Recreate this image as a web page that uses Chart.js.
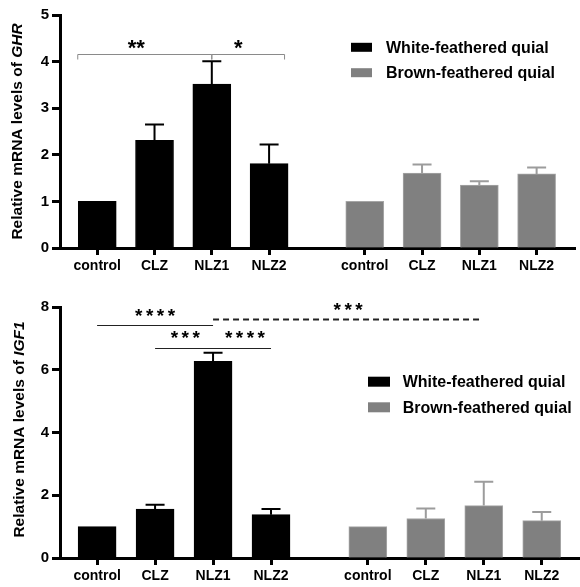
<!DOCTYPE html>
<html><head><meta charset="utf-8">
<script src="https://cdn.jsdelivr.net/npm/chart.js@4"></script>
<style>
html,body{margin:0;padding:0;background:#fff;}
#wrap{position:relative;width:580px;height:587px;overflow:hidden;}
.box{position:absolute;left:0;width:580px;}
</style></head><body>
<div id="wrap">
<div class="box" style="top:0;height:290px"><canvas id="c1" width="580" height="290"></canvas></div>
<div class="box" style="top:290px;height:297px"><canvas id="c2" width="580" height="297"></canvas></div>
</div>
<script>
// ---- data ----
const categories = ['control','CLZ','NLZ1','NLZ2','control','CLZ','NLZ1','NLZ2'];
const seriesNames = ['White-feathered quial','Brown-feathered quial'];
const ghrWhite   = [1.00, 2.31, 3.52, 1.81];
const ghrWhiteSD = [0.00, 0.34, 0.49, 0.41];
const ghrBrown   = [1.00, 1.61, 1.35, 1.59];
const ghrBrownSD = [0.00, 0.18, 0.08, 0.14];
const igfWhite   = [1.00, 1.56, 6.27, 1.38];
const igfWhiteSD = [0.00, 0.14, 0.27, 0.18];
const igfBrown   = [1.00, 1.26, 1.67, 1.19];
const igfBrownSD = [0.00, 0.32, 0.76, 0.28];
const ghrYTicks = [0,1,2,3,4,5];
const igfYTicks = [0,2,4,6,8];
// significance comparisons (category index ranges, value level, label)
const ghrSig = [
  {from:-0.34, to:2, y:4.16, label:'**', lx:0.68, ly:4.36},
  {from:2, to:3.27, y:4.16, label:'*', lx:2.46, ly:4.36}
];
const igfSig = [
  {from:0, to:2, y:7.44, label:'****', lx:1.0, ly:7.83, dash:false},
  {from:2, to:6.6, y:7.61, label:'***', lx:4.33, ly:8.02, dash:true},
  {from:1, to:3, y:6.69, label:'***', lx:1.52, ly:7.12, dash:false, label2:'****', lx2:2.55}
];

// ---- layout ----
const xPos = [0,1,2,3,4.67,5.67,6.67,7.67];
const FONT = "'Liberation Sans', Arial, sans-serif";
const BLACK = '#000000', GRAY = '#808080';

const errorBars = {
  id:'errbars',
  afterDatasetsDraw(chart){
    const ctx = chart.ctx, ys = chart.scales.y;
    chart.data.datasets.forEach((ds,i)=>{
      const meta = chart.getDatasetMeta(i);
      meta.data.forEach((bar,j)=>{
        const sd = ds.errors[j]; if(!sd) return;
        const v = ds.data[j].y;
        const top = ys.getPixelForValue(v+sd), base = ys.getPixelForValue(v);
        ctx.save();
        ctx.strokeStyle = ds.errorColor; ctx.lineWidth = 2;
        ctx.beginPath();
        ctx.moveTo(bar.x, base); ctx.lineTo(bar.x, top);
        ctx.moveTo(bar.x-9.5, top); ctx.lineTo(bar.x+9.5, top);
        ctx.stroke(); ctx.restore();
      });
    });
  }
};

function drawCenteredText(ctx, text, cx, cy, font, spacing){
  ctx.save();
  ctx.font = font; ctx.fillStyle = '#000';
  if (spacing) ctx.letterSpacing = spacing + 'px';
  ctx.textBaseline = 'alphabetic'; ctx.textAlign = 'left';
  const m = ctx.measureText(text);
  const w = m.width - (spacing||0);
  const A = m.actualBoundingBoxAscent, D = m.actualBoundingBoxDescent;
  ctx.fillText(text, cx - w/2, cy + (A - D)/2);
  ctx.restore();
}

const sigPlugin = {
  id:'sig',
  afterDraw(chart, args, opts){
    const ctx = chart.ctx, xs = chart.scales.x, ys = chart.scales.y;
    (opts.items||[]).forEach(s=>{
      const x1 = xs.getPixelForValue(s.from), x2 = xs.getPixelForValue(s.to);
      const y = Math.round(ys.getPixelForValue(s.y)) + 0.5;
      ctx.save();
      ctx.strokeStyle = opts.color; ctx.lineWidth = s.dash ? opts.dashWidth : opts.lineWidth;
      if (s.dash) ctx.setLineDash([6,4]);
      ctx.beginPath(); ctx.moveTo(x1, y); ctx.lineTo(x2, y);
      if (opts.endTicks){ ctx.moveTo(x1, y); ctx.lineTo(x1, y+opts.endTicks); ctx.moveTo(x2, y); ctx.lineTo(x2, y+opts.endTicks); }
      ctx.stroke(); ctx.restore();
      drawCenteredText(ctx, s.label, xs.getPixelForValue(s.lx), ys.getPixelForValue(s.ly), opts.font, opts.spacing);
      if (s.label2) drawCenteredText(ctx, s.label2, xs.getPixelForValue(s.lx2), ys.getPixelForValue(s.ly), opts.font, opts.spacing);
    });
  }
};

const yTitle = {
  id:'ytitle',
  afterDraw(chart, args, opts){
    const ctx = chart.ctx, a = chart.chartArea;
    const cy = (a.top + a.bottom)/2 + (opts.dy||0);
    ctx.save();
    ctx.translate(opts.x, cy); ctx.rotate(-Math.PI/2);
    ctx.textBaseline = 'middle'; ctx.fillStyle = '#000';
    const f1 = 'bold ' + opts.size + 'px ' + FONT, f2 = 'italic bold ' + opts.size + 'px ' + FONT;
    ctx.font = f1; const w1 = ctx.measureText(opts.text).width;
    ctx.font = f2; const w2 = ctx.measureText(opts.italic).width;
    let x = -(w1+w2)/2;
    ctx.font = f1; ctx.fillText(opts.text, x, 0);
    ctx.font = f2; ctx.fillText(opts.italic, x + w1, 0);
    ctx.restore();
  }
};

const customLegend = {
  id:'customLegend',
  afterDraw(chart, args, opts){
    const ctx = chart.ctx;
    chart.data.datasets.forEach((ds,i)=>{
      const cy = opts.rows[i];
      ctx.save();
      ctx.fillStyle = ds.backgroundColor;
      ctx.fillRect(opts.x, cy - opts.bh/2, opts.bw, opts.bh);
      ctx.font = 'bold ' + opts.size + 'px ' + FONT;
      ctx.fillStyle = '#000'; ctx.textBaseline = 'middle';
      ctx.fillText(ds.label, opts.tx, cy + 1);
      ctx.restore();
    });
  }
};

function makeChart(id, white, whiteSD, brown, brownSD, yTicks, cfg){
  const ds = (vals, sd, offset, name, color, border, errColor) => ({
    label: name,
    data: vals.map((v,i)=>({x: xPos[i+offset], y: v})),
    errors: sd,
    backgroundColor: color, borderColor: border, borderWidth: 1,
    errorColor: errColor,
    barThickness: 38, grouped: false
  });
  return new Chart(document.getElementById(id), {
    type:'bar',
    data:{ datasets:[
      ds(white, whiteSD, 0, seriesNames[0], BLACK, BLACK, BLACK),
      ds(brown, brownSD, 4, seriesNames[1], GRAY, '#a6a6a6', '#9c9c9c')
    ]},
    options:{
      responsive:false, animation:false, devicePixelRatio:1,
      layout:{ padding:{ top:cfg.padTop, right:cfg.padRight, left:0, bottom:0 } },
      plugins:{
        legend:{display:false}, tooltip:{enabled:false},
        sig: cfg.sig,
        ytitle: cfg.title,
        customLegend: cfg.legend
      },
      scales:{
        x:{
          type:'linear', min:cfg.xmin, max:cfg.xmax, offset:false,
          afterBuildTicks(s){ s.ticks = xPos.map(v=>({value:v})); },
          afterFit(s){ s.height = cfg.xHeight; },
          ticks:{ callback:(v,i)=>categories[i], autoSkip:false, maxRotation:0, color:'#000',
                  font:{family:FONT, size:14, weight:'bold'}, padding:3 },
          grid:{ offset:false, drawOnChartArea:false, drawTicks:true, tickLength:7, tickWidth:3, tickColor:'#000' },
          border:{ display:true, color:'#000', width:3 }
        },
        y:{
          min:0, max:yTicks[yTicks.length-1],
          afterBuildTicks(s){ s.ticks = yTicks.map(v=>({value:v})); },
          afterFit(s){ s.width = 60; },
          ticks:{ color:'#000', font:{family:FONT, size:15, weight:'bold'}, padding:3 },
          grid:{ drawOnChartArea:false, drawTicks:true, tickLength:8, tickWidth:3, tickColor:'#000' },
          border:{ display:true, color:'#000', width:3 }
        }
      }
    },
    plugins:[errorBars, sigPlugin, yTitle, customLegend]
  });
}

makeChart('c1', ghrWhite, ghrWhiteSD, ghrBrown, ghrBrownSD, ghrYTicks, {
  padTop:15, padRight:5, xHeight:42, xmin:-0.65, xmax:8.34,
  sig:{ items: ghrSig, color:'#8a8a8a', lineWidth:1, dashWidth:1, endTicks:5,
        font:'bold 22px ' + FONT, spacing:0 },
  title:{ x:18, size:15.5, text:'Relative mRNA levels of ', italic:'GHR' },
  legend:{ x:351, bw:21, bh:9, tx:386, rows:[47.3, 72.7], size:16 }
});

makeChart('c2', igfWhite, igfWhiteSD, igfBrown, igfBrownSD, igfYTicks, {
  padTop:17, padRight:0, xHeight:29, xmin:-0.64, xmax:8.33,
  sig:{ items: igfSig, color:'#222', lineWidth:1.2, dashWidth:2, endTicks:0,
        font:'bold 19px ' + FONT, spacing:3.5 },
  title:{ x:20, size:15.5, text:'Relative mRNA levels of ', italic:'IGF1', dy:-3 },
  legend:{ x:368, bw:22, bh:10, tx:402.7, rows:[91.7, 117.3], size:16 }
});
</script>
</body></html>
